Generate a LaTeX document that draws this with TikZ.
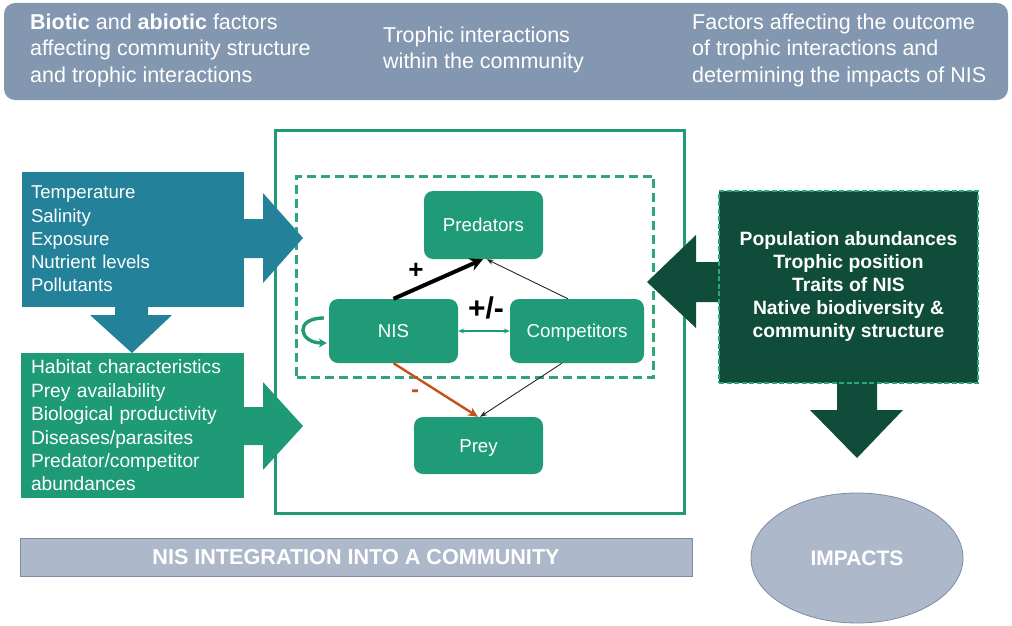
\documentclass[tikz,border=0pt]{standalone}
\usepackage{fontspec}
\setmainfont{Liberation Sans}
\usetikzlibrary{arrows.meta,calc,shapes.geometric}

\definecolor{bannerblue}{HTML}{8497B0}
\definecolor{palegrey}{HTML}{ADB9CA}
\definecolor{edgegrey}{HTML}{7D8CA3}
\definecolor{abioblue}{HTML}{23819A}
\definecolor{biogreen}{HTML}{1E9A76}
\definecolor{nodegreen}{HTML}{1F9B78}
\definecolor{darkgreen}{HTML}{0F4C3A}
\definecolor{dashgreen}{HTML}{2FA57C}
\definecolor{minusorange}{HTML}{C4501C}

\tikzset{
  factorbox/.style={rectangle, inner ysep=0pt, text=white, align=left},
  species/.style={rectangle, rounded corners=9pt, fill=nodegreen, text=white,
    inner sep=0pt, text height=13.3pt, text depth=0pt,
    font=\fontsize{18.7}{22}\selectfont},
  headtext/.style={anchor=west, inner sep=0pt, text=white, align=left,
    font=\fontsize{21.5}{26.5}\selectfont},
  thinlink/.style={draw=black!85, line width=0.9pt, -{Stealth[length=7pt,width=5pt]}},
  signlabel/.style={inner sep=0pt}
}

\begin{document}
\begin{tikzpicture}[x=1pt,y=-1pt]
\useasboundingbox (0,0) rectangle (1012,626);

% header band with the three column captions
\node[fill=bannerblue, rounded corners=11pt, minimum width=1004pt, minimum height=97pt,
      inner sep=0pt] (header) at (506,51.5) {};
\node[headtext] (capleft) at (30,50)
  {\textbf{Biotic} and \textbf{abiotic} factors\\affecting community structure\\and trophic interactions};
\node[headtext] (capmid) at (383,50)
  {Trophic interactions\\within the community};
\node[headtext] (capright) at (692,50)
  {Factors affecting the outcome\\of trophic interactions and\\determining the impacts of NIS};

% community frame and the dashed core
\node[draw=nodegreen, line width=3pt, minimum width=409pt, minimum height=383pt,
      inner sep=0pt] (frame) at (479.5,321.5) {};
\node[draw=dashgreen, line width=3pt, dash pattern=on 9pt off 5pt,
      minimum width=357pt, minimum height=201pt, inner sep=0pt] (core) at (475,276.5) {};

% block arrows of the abiotic and biotic factor boxes
\fill[abioblue] (240,219) -- (263,219) -- (263,193) -- (303,238) -- (263,283)
  -- (263,258) -- (240,258) -- cycle;
\fill[abioblue] (115,300) -- (148,300) -- (148,315) -- (172,315) -- (132,353)
  -- (90,315) -- (115,315) -- cycle;
\fill[biogreen] (240,407) -- (263,407) -- (263,382) -- (303,426) -- (263,470)
  -- (263,445) -- (240,445) -- cycle;

\node[factorbox, fill=abioblue, minimum width=222pt, minimum height=135pt,
      inner xsep=9pt, text width=204pt, font=\fontsize{18.6}{23.3}\selectfont]
  (abiotic) at (133,239)
  {Temperature\\Salinity\\Exposure\\Nutrient levels\\Pollutants};
\node[factorbox, fill=biogreen, minimum width=223pt, minimum height=145pt,
      inner xsep=10pt, text width=203pt, font=\fontsize{19.2}{23.4}\selectfont]
  (biotic) at (132.5,425.5)
  {Habitat characteristics\\Prey availability\\Biological productivity\\Diseases/parasites\\Predator/competitor\\abundances};

% block arrows of the outcome box
\fill[darkgreen] (725,262) -- (696,262) -- (696,235) -- (647,282) -- (696,328)
  -- (696,302) -- (725,302) -- cycle;
\fill[darkgreen] (837,375) -- (877,375) -- (877,410) -- (903,410) -- (857,458)
  -- (810,410) -- (837,410) -- cycle;

\node[fill=darkgreen, draw=dashgreen, line width=1.8pt, dash pattern=on 5pt off 2.5pt,
      minimum width=259pt, minimum height=192pt, inner sep=0pt, text=white, align=center,
      font=\bfseries\fontsize{19.3}{23}\selectfont] (outcome) at (848.5,287)
  {Population abundances\\Trophic position\\Traits of NIS\\Native biodiversity \&\\community structure};

% species in the community
\node[species, minimum width=119pt, minimum height=68pt] (pred) at (483.5,225) {Predators};
\node[species, minimum width=129pt, minimum height=64pt] (nis) at (393.5,331) {NIS};
\node[species, minimum width=134pt, minimum height=64pt] (comp) at (577,331) {Competitors};
\node[species, minimum width=129pt, minimum height=57pt] (prey) at (478.5,445.5) {Prey};

% trophic links
\draw[line width=4pt, -{Stealth[length=13pt,width=13pt]}]
  (nis.north) -- ($(pred.south)+(-0.5,0)$);
\draw[thinlink] ($(comp.north)+(-9,0)$) -- ($(pred.south)+(3,0)$);
\draw[draw=nodegreen, line width=1.2pt, {Stealth[length=6pt,width=5pt]}-{Stealth[length=6pt,width=5pt]}]
  (nis.east) -- (comp.west);
\draw[draw=minusorange, line width=2.4pt, -{Stealth[length=10pt,width=9pt]}]
  (nis.south) -- ($(prey.north)+(-0.5,0)$);
\draw[thinlink] ($(comp.south)+(-15,0)$) -- ($(prey.north)+(1.5,0)$);
\draw[draw=nodegreen, line width=3.4pt, -{Stealth[length=8pt,width=9pt]}]
  ($(nis.west)+(-5,-13)$) .. controls +(-30,0) and +(-28,0) .. ($(nis.west)+(-2,12)$);

\node[signlabel, font=\bfseries\fontsize{26}{26}\selectfont] (plus) at (416,271) {+};
\node[signlabel, font=\bfseries\fontsize{30}{30}\selectfont] (plusminus) at (486,308) {+/-};
\node[signlabel, text=minusorange, font=\bfseries\fontsize{24}{24}\selectfont] (minus) at (415,394) {-};

% bottom captions
\node[fill=palegrey, draw=edgegrey, line width=0.8pt, minimum width=672pt, minimum height=38pt,
      inner sep=0pt, text=white, font=\bfseries\fontsize{21.6}{21.6}\selectfont] (integration)
  at (356,557) {NIS INTEGRATION INTO A COMMUNITY};
\node[ellipse, fill=palegrey, draw=edgegrey, line width=0.8pt, minimum width=212pt,
      minimum height=130pt, inner sep=0pt, text=white,
      font=\bfseries\fontsize{21}{21}\selectfont] (impacts) at (857,558) {IMPACTS};
\end{tikzpicture}
\end{document}
